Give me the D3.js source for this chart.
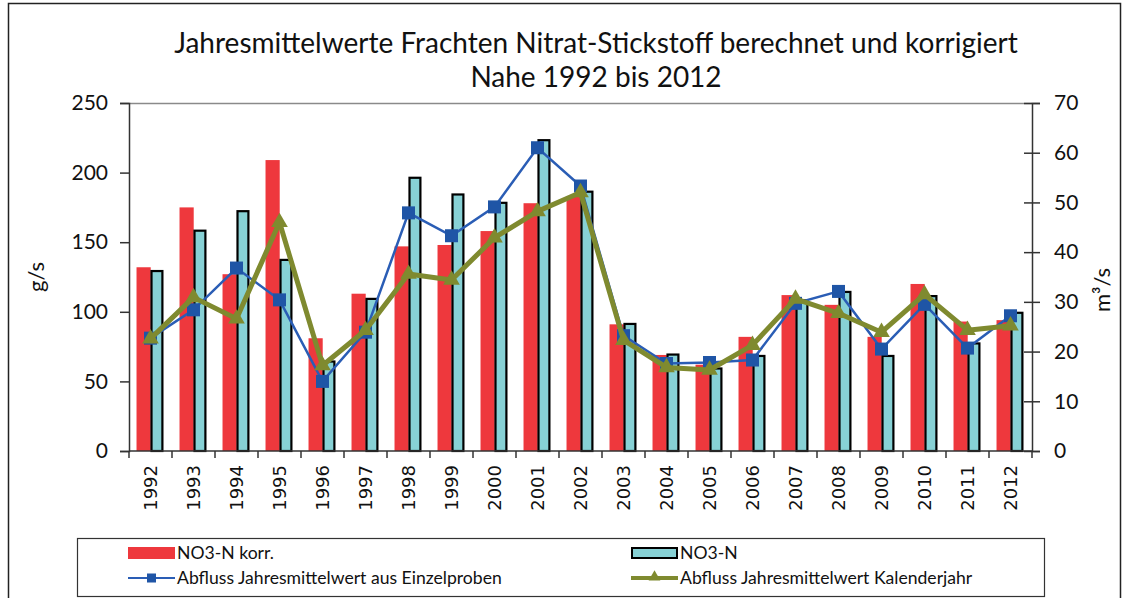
<!DOCTYPE html>
<html>
<head>
<meta charset="utf-8">
<script src="https://cdn.jsdelivr.net/npm/d3@7"></script>
<style>
  html, body { margin: 0; padding: 0; background: #fff; }
  svg { display: block; }
  text { font-family: Lato, "Noto Sans", sans-serif; fill: #111; }
</style>
</head>
<body>
<svg id="chart" width="1125" height="598"></svg>
<script>
// Jahre und Messreihen (Nahe, 1992–2012)
const years = ["1992","1993","1994","1995","1996","1997","1998","1999","2000","2001","2002",
               "2003","2004","2005","2006","2007","2008","2009","2010","2011","2012"];
// Frachten Nitrat-Stickstoff in g/s
const no3nKorr = [132,175,127,209,81,113,147,148,158,178,183,91,69,62,82,112,105,82,120,93,94];
const no3n     = [130,159,173,138,65,110,197,185,179,224,187,92,70,60,69,109,115,69,112,78,100];
// Abfluss in m³/s
const abflussEinzel   = [22.7,28.4,36.8,30.4,14.0,23.9,47.9,43.3,49.1,61.0,53.3,23.2,17.6,17.8,18.3,29.7,32.1,20.5,29.5,20.7,27.2];
const abflussKalender = [22.6,30.9,26.6,46.0,17.2,24.3,35.6,34.4,42.9,48.2,52.0,22.3,16.8,16.3,21.3,30.6,27.7,23.9,31.5,24.3,25.2];
// Achsenbeschriftungen
const leftTicks  = [0,50,100,150,200,250];
const rightTicks = [0,10,20,30,40,50,60,70];

const titleLines = ["Jahresmittelwerte Frachten Nitrat-Stickstoff berechnet und korrigiert", "Nahe 1992 bis 2012"];
const legendItems = [
  {label: "NO3-N korr.", kind: "barRed"},
  {label: "NO3-N", kind: "barCyan"},
  {label: "Abfluss Jahresmittelwert aus Einzelproben", kind: "lineBlue"},
  {label: "Abfluss Jahresmittelwert Kalenderjahr", kind: "lineOlive"}
];

const C = { red: "#EE383D", cyan: "#87D1D5", blue: "#1F55A6", blueLine: "#2A5DB5", olive: "#7F8A2F" };

const svg = d3.select("#chart");
const m = {left: 129, right: 1032, top: 103, bottom: 451};

// outer frame
svg.append("rect").attr("x", 8.5).attr("y", 3.5).attr("width", 1112).attr("height", 610)
  .attr("fill", "none").attr("stroke", "#222").attr("stroke-width", 1.5);

// title
svg.append("g").selectAll("text").data(titleLines).join("text")
  .attr("x", 596).attr("y", (d, i) => 53 + i * 34)
  .attr("text-anchor", "middle").style("font-size", "28px").text(d => d);

const x = d3.scaleBand().domain(years).range([m.left, m.right]).paddingInner(0).paddingOuter(0);
const yL = d3.scaleLinear().domain([0, 250]).range([m.bottom, m.top]);
const yR = d3.scaleLinear().domain([0, 70]).range([m.bottom, m.top]);
const bw = x.bandwidth();

// top border of plot area
svg.append("line").attr("x1", m.left).attr("x2", m.right).attr("y1", m.top + 0.5).attr("y2", m.top + 0.5)
  .attr("stroke", "#8a8a8a").attr("stroke-width", 1.5);

// bars
svg.append("g").selectAll("rect").data(years).join("rect")
  .attr("x", d => x(d) + bw * 0.175).attr("width", bw * 0.33)
  .attr("y", (d, i) => yL(no3nKorr[i])).attr("height", (d, i) => yL(0) - yL(no3nKorr[i]))
  .attr("fill", C.red);

svg.append("g").selectAll("rect").data(years).join("rect")
  .attr("x", d => x(d) + bw * 0.5 + 1).attr("width", bw * 0.3 - 2)
  .attr("y", (d, i) => yL(no3n[i]) + 1).attr("height", (d, i) => yL(0) - yL(no3n[i]) - 1)
  .attr("fill", C.cyan).attr("stroke", "#000").attr("stroke-width", 2.2);

// lines
const cx = d => x(d) + bw / 2;
const lineBlue = d3.line().x((d, i) => cx(years[i])).y(d => yR(d));
svg.append("path").datum(abflussEinzel).attr("d", lineBlue)
  .attr("fill", "none").attr("stroke", C.blueLine).attr("stroke-width", 2.5);
svg.append("g").selectAll("rect").data(abflussEinzel).join("rect")
  .attr("x", (d, i) => cx(years[i]) - 6.5).attr("y", d => yR(d) - 6.5)
  .attr("width", 13).attr("height", 13).attr("fill", C.blue);

svg.append("path").datum(abflussKalender).attr("d", lineBlue)
  .attr("fill", "none").attr("stroke", C.olive).attr("stroke-width", 5).attr("stroke-linejoin", "round");
const tri = d3.symbol().type(d3.symbolTriangle).size(120);
svg.append("g").selectAll("path").data(abflussKalender).join("path")
  .attr("transform", (d, i) => `translate(${cx(years[i])},${yR(d)})`)
  .attr("d", tri).attr("fill", C.olive);

// left axis
const gL = svg.append("g").attr("transform", `translate(${m.left},0)`)
  .call(d3.axisLeft(yL).tickValues(leftTicks).tickSize(9).tickPadding(12));
gL.select(".domain").attr("stroke", "#333").attr("stroke-width", 1.5);
gL.selectAll(".tick line").attr("stroke", "#333").attr("stroke-width", 1.5);
gL.selectAll(".tick text").style("font-size", "21px").style("font-family", "Lato").attr("fill", "#111");

// right axis with crossing ticks
const gR = svg.append("g").attr("transform", `translate(${m.right},0)`)
  .call(d3.axisRight(yR).tickValues(rightTicks).tickSize(8).tickPadding(14));
gR.select(".domain").attr("stroke", "#333").attr("stroke-width", 1.5);
gR.selectAll(".tick line").attr("x1", -8).attr("stroke", "#333").attr("stroke-width", 1.5);
gR.selectAll(".tick text").style("font-size", "21px").style("font-family", "Lato").attr("fill", "#111");

// x axis: ticks at category boundaries
const gX = svg.append("g").attr("transform", `translate(0,${m.bottom})`);
gX.append("line").attr("x1", m.left).attr("x2", m.right).attr("stroke", "#333").attr("stroke-width", 1.5);
gX.selectAll("line.tk").data(years.concat(["end"])).join("line").attr("class", "tk")
  .attr("x1", (d, i) => m.left + i * bw).attr("x2", (d, i) => m.left + i * bw)
  .attr("y1", 0).attr("y2", 7).attr("stroke", "#333").attr("stroke-width", 1.5);
gX.selectAll("text").data(years).join("text")
  .attr("transform", d => `translate(${cx(d)},14) rotate(-90)`)
  .attr("dy", "0.36em").attr("text-anchor", "end")
  .style("font-family", "'DejaVu Sans', Verdana, sans-serif").style("font-size", "18px")
  .text(d => d);

// axis titles
svg.append("text").attr("transform", "translate(44,277) rotate(-90)")
  .attr("text-anchor", "middle").style("font-size", "22px").text("g/s");
svg.append("text").attr("transform", "translate(1110,290) rotate(-90)")
  .attr("text-anchor", "middle").style("font-size", "22px").text("m³/s");

// legend
const lg = svg.append("g");
lg.append("rect").attr("x", 77.5).attr("y", 538.5).attr("width", 967).attr("height", 58)
  .attr("fill", "#fff").attr("stroke", "#333").attr("stroke-width", 1.2);
const pos = [[128, 553], [631, 553], [128, 578], [631, 578]];
legendItems.forEach((it, i) => {
  const [px, py] = pos[i];
  const g = lg.append("g").attr("transform", `translate(${px},${py})`);
  if (it.kind === "barRed") {
    g.append("rect").attr("x", 0).attr("y", -6).attr("width", 47).attr("height", 12).attr("fill", C.red);
  } else if (it.kind === "barCyan") {
    g.append("rect").attr("x", 1).attr("y", -5).attr("width", 45).attr("height", 10)
      .attr("fill", C.cyan).attr("stroke", "#000").attr("stroke-width", 2);
  } else if (it.kind === "lineBlue") {
    g.append("line").attr("x1", 0).attr("x2", 47).attr("stroke", C.blueLine).attr("stroke-width", 2);
    g.append("rect").attr("x", 19).attr("y", -4.5).attr("width", 9).attr("height", 9).attr("fill", C.blue);
  } else {
    g.append("line").attr("x1", 0).attr("x2", 47).attr("stroke", C.olive).attr("stroke-width", 4);
    g.append("path").attr("transform", "translate(23.5,-1)").attr("d", d3.symbol().type(d3.symbolTriangle).size(60)).attr("fill", C.olive);
  }
  g.append("text").attr("x", 49).attr("y", 0).attr("dy", "0.35em").style("font-size", "17.6px").text(it.label);
});
</script>
</body>
</html>
